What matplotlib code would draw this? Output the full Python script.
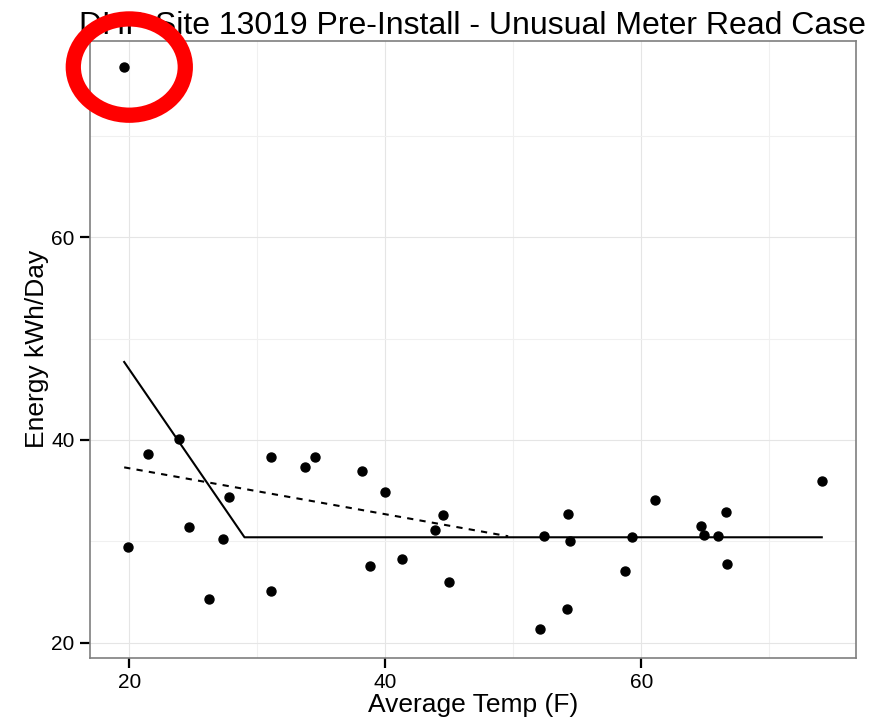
import matplotlib
matplotlib.use('Agg')
import matplotlib.pyplot as plt
from matplotlib.patches import Ellipse

plt.rcParams['font.family'] = ['Liberation Sans', 'DejaVu Sans']

# average temp (F) and energy use (kWh/day) per meter read
temp = [19.6, 19.9, 21.5, 23.9, 24.7, 26.2, 27.3, 27.8, 31.1, 31.1, 33.7,
        34.5, 38.2, 38.8, 40.0, 41.3, 43.9, 44.5, 45.0, 52.1, 52.4, 54.3,
        54.2, 54.4, 58.7, 59.3, 61.1, 64.7, 64.9, 66.0, 66.6, 66.7, 74.1]
energy = [76.8, 29.4, 38.6, 40.1, 31.4, 24.3, 30.2, 34.4, 38.3, 25.1, 37.3,
          38.3, 36.9, 27.6, 34.9, 28.3, 31.1, 32.6, 26.0, 21.3, 30.5, 32.7,
          23.3, 30.0, 27.1, 30.4, 34.1, 31.5, 30.6, 30.5, 32.9, 27.8, 36.0]

# fitted models
fit_x = [19.6, 29.0, 74.1]
fit_y = [47.7, 30.4, 30.4]
alt_x = [19.6, 49.6]
alt_y = [37.3, 30.5]

# highlighted unusual read
flag_x, flag_y = 20.0, 76.8

fig = plt.figure(figsize=(8.92, 7.22), dpi=100)
ax = fig.add_axes([0.1009, 0.0891, 0.8584, 0.8545])

ax.set_xlim(16.93, 76.75)
ax.set_ylim(18.52, 79.4)
ax.set_xticks([20, 40, 60])
ax.set_yticks([20, 40, 60])
ax.set_xticks([30, 50, 70], minor=True)
ax.set_yticks([30, 50, 70], minor=True)
ax.grid(True, which='major', color='#e5e5e5', linewidth=0.8)
ax.grid(True, which='minor', color='#f0f0f0', linewidth=0.8)
ax.set_axisbelow(True)
for s in ax.spines.values():
    s.set_color('#7f7f7f')
    s.set_linewidth(1.2)
ax.tick_params(which='major', length=7, width=1.6, color='black',
               labelsize=15, pad=4)
ax.tick_params(which='minor', length=0)

ax.scatter(temp, energy, s=42, color='black', zorder=3)
ax.plot(fit_x, fit_y, color='black', linewidth=1.5, zorder=2)
ax.plot(alt_x, alt_y, color='black', linewidth=1.5, linestyle=(0, (3, 3)), zorder=2)

ax.set_xlabel('Average Temp (F)', fontsize=19, labelpad=1)
ax.set_ylabel('Energy kWh/Day', fontsize=19, labelpad=2)
ax.set_title('DHP Site 13019 Pre-Install - Unusual Meter Read Case', fontsize=23, pad=5)

circ = Ellipse((flag_x, flag_y), 8.75, 9.5, fill=False, edgecolor='red',
               linewidth=11, clip_on=False, zorder=5)
ax.add_patch(circ)

fig.savefig('out.png', dpi=100)
